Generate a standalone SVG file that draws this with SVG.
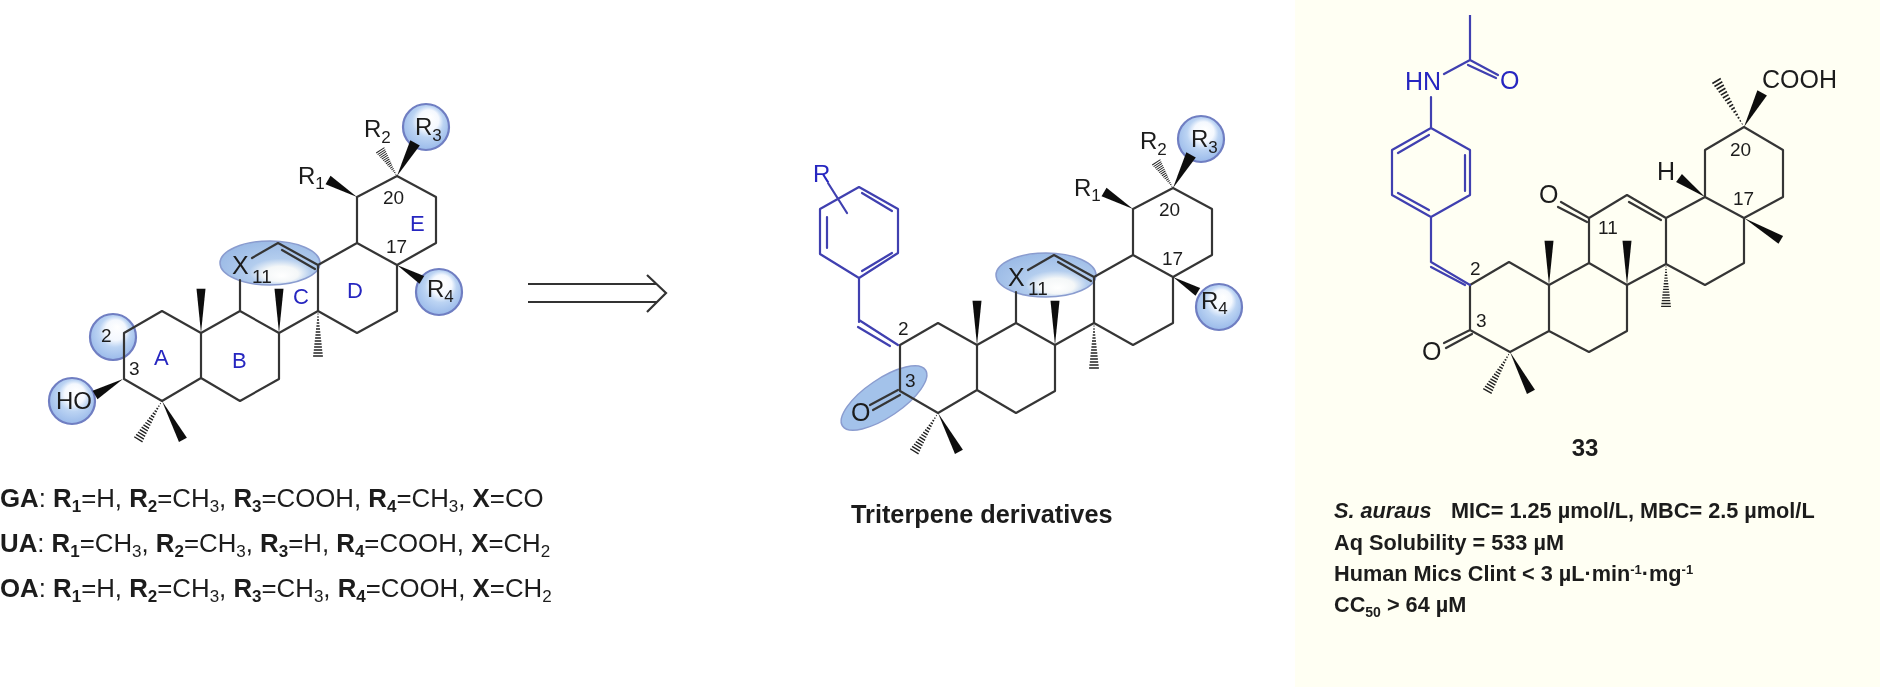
<svg xmlns="http://www.w3.org/2000/svg" width="1880" height="687" viewBox="0 0 1880 687">
<style>
text{font-family:"Liberation Sans",Arial,sans-serif;fill:#1c1c1c}
.bond{fill:none;stroke:#363636;stroke-width:2.2;stroke-linejoin:round;stroke-linecap:round}
.blue{fill:none;stroke:#3f3fb0;stroke-width:2.2;stroke-linejoin:round;stroke-linecap:round}
.spot{fill:url(#glow);stroke:#6f7ec2;stroke-width:2.2}
.oval{fill:url(#glowOval);stroke:#8a9ccf;stroke-width:1.5}
.ovalflat{fill:#a3c2ea;stroke:#8a9ccf;stroke-width:1.5}
.atom{font-size:24px}
.sub{font-size:17px}
.num{font-size:19px}
.ring{font-size:22px;fill:#2626c0}
.rb{font-size:24px;fill:#2626c0}
.tbl{font-size:25.8px}
.tbl tspan.s{font-size:17px}
.bd{font-weight:bold}
.data{font-size:21.7px;font-weight:bold}
.wedge{fill:#111}
.hash{fill:none;stroke:#222;stroke-width:1.4}
</style>
<defs>
<radialGradient id="glow" cx="0.5" cy="0.45" r="0.55" fx="0.6" fy="0.28">
<stop offset="0" stop-color="#ffffff"/><stop offset="0.4" stop-color="#f4f8fe"/><stop offset="0.62" stop-color="#bcd4f3"/><stop offset="1" stop-color="#9abaea"/>
</radialGradient>
<radialGradient id="glowOval" cx="0.58" cy="0.62" r="0.62" fx="0.62" fy="0.8">
<stop offset="0" stop-color="#ffffff"/><stop offset="0.28" stop-color="#f4f7f8"/><stop offset="0.5" stop-color="#b3cdee"/><stop offset="1" stop-color="#9cbbe6"/>
</radialGradient>
<filter id="soft" x="0" y="0" width="1" height="1" filterUnits="objectBoundingBox"><feGaussianBlur stdDeviation="0.45"/></filter>
<polygon id="w" points="0,0 46,-4.5 46,4.5"/>
<path id="h" d="M3 -.4V.4M6 -.7V.7M9 -1V1M12 -1.3V1.3M15 -1.6V1.6M18 -2V2M21 -2.3V2.3M24 -2.6V2.6M27 -2.9V2.9M30 -3.3V3.3M33 -3.6V3.6M36 -3.9V3.9M39 -4.2V4.2M42 -4.6V4.6M45 -4.9V4.9"/>
<g id="core">
<path class="bond" d="M124 333L162 311L201 333L240 311L279 333L318 311L357 333L397 311V265L436 243V197L397 176L357 197V243L397 265M201 333V378L240 401L279 379V333M124 333V379L162 401L201 378M318 311V265L357 243M318 265L278 243L252 258M282 250L315 269M240 311V280"/>
<use href="#w" class="wedge" transform="translate(201 333) rotate(-90) scale(.96 1)"/>
<use href="#w" class="wedge" transform="translate(279 333) rotate(-90) scale(.96 1)"/>
<use href="#w" class="wedge" transform="translate(162 401) rotate(61.7) scale(.96 1)"/>
<use href="#w" class="wedge" transform="translate(357 197) rotate(-149.6) scale(.73 1.1)"/>
<use href="#w" class="wedge" transform="translate(397 176) rotate(-61.4) scale(.82 1.2)"/>
<use href="#w" class="wedge" transform="translate(397 265) rotate(31) scale(.63 1)"/>
<use href="#h" class="hash" transform="translate(397 176) rotate(-123) scale(.68 1)"/>
<use href="#h" class="hash" transform="translate(318 311) rotate(90)"/>
<use href="#h" class="hash" transform="translate(162 401) rotate(121.6)"/>
</g>
</defs>
<rect id="background" width="1880" height="687" fill="#ffffff"/>
<rect id="panel" x="1295" y="0" width="585" height="687" fill="#fffff3"/>
<g filter="url(#soft)">
<g id="parent-structure">
<ellipse class="oval" cx="270" cy="263" rx="50" ry="22"/>
<circle class="spot" cx="426" cy="127" r="23"/>
<circle class="spot" cx="439" cy="292" r="23"/>
<circle class="spot" cx="113" cy="337" r="23"/>
<circle class="spot" cx="72" cy="401" r="23"/>
<use href="#core"/>
<use href="#w" class="wedge" transform="translate(123 379) rotate(150.3) scale(.7 1.1)"/>
<text class="atom" x="56" y="409">HO</text>
<text class="atom" x="298" y="184">R<tspan class="sub" dy="5">1</tspan></text>
<text class="atom" x="364" y="137">R<tspan class="sub" dy="6">2</tspan></text>
<text class="atom" x="415" y="135">R<tspan class="sub" dy="6">3</tspan></text>
<text class="atom" x="427" y="297">R<tspan class="sub" dy="5">4</tspan></text>
<text class="atom" x="232" y="274" style="font-size:25px">X</text>
<text class="num" x="252" y="283">11</text>
<text class="num" x="383" y="204">20</text>
<text class="num" x="386" y="253">17</text>
<text class="num" x="101" y="342">2</text>
<text class="num" x="129" y="375">3</text>
<text class="ring" x="154" y="365">A</text>
<text class="ring" x="232" y="368">B</text>
<text class="ring" x="293" y="304">C</text>
<text class="ring" x="347" y="298">D</text>
<text class="ring" x="410" y="231">E</text>
</g>
<g id="activity-table">
<text class="tbl" x="0" y="507"><tspan class="bd">GA</tspan>: <tspan class="bd">R</tspan><tspan class="bd s" dy="5">1</tspan><tspan dy="-5">=H, </tspan><tspan class="bd">R</tspan><tspan class="bd s" dy="5">2</tspan><tspan dy="-5">=CH</tspan><tspan class="s" dy="5">3</tspan><tspan dy="-5">, </tspan><tspan class="bd">R</tspan><tspan class="bd s" dy="5">3</tspan><tspan dy="-5">=COOH, </tspan><tspan class="bd">R</tspan><tspan class="bd s" dy="5">4</tspan><tspan dy="-5">=CH</tspan><tspan class="s" dy="5">3</tspan><tspan dy="-5">, </tspan><tspan class="bd">X</tspan>=CO</text>
<text class="tbl" x="0" y="552"><tspan class="bd">UA</tspan>: <tspan class="bd">R</tspan><tspan class="bd s" dy="5">1</tspan><tspan dy="-5">=CH</tspan><tspan class="s" dy="5">3</tspan><tspan dy="-5">, </tspan><tspan class="bd">R</tspan><tspan class="bd s" dy="5">2</tspan><tspan dy="-5">=CH</tspan><tspan class="s" dy="5">3</tspan><tspan dy="-5">, </tspan><tspan class="bd">R</tspan><tspan class="bd s" dy="5">3</tspan><tspan dy="-5">=H, </tspan><tspan class="bd">R</tspan><tspan class="bd s" dy="5">4</tspan><tspan dy="-5">=COOH, </tspan><tspan class="bd">X</tspan>=CH<tspan class="s" dy="5">2</tspan></text>
<text class="tbl" x="0" y="597"><tspan class="bd">OA</tspan>: <tspan class="bd">R</tspan><tspan class="bd s" dy="5">1</tspan><tspan dy="-5">=H, </tspan><tspan class="bd">R</tspan><tspan class="bd s" dy="5">2</tspan><tspan dy="-5">=CH</tspan><tspan class="s" dy="5">3</tspan><tspan dy="-5">, </tspan><tspan class="bd">R</tspan><tspan class="bd s" dy="5">3</tspan><tspan dy="-5">=CH</tspan><tspan class="s" dy="5">3</tspan><tspan dy="-5">, </tspan><tspan class="bd">R</tspan><tspan class="bd s" dy="5">4</tspan><tspan dy="-5">=COOH, </tspan><tspan class="bd">X</tspan>=CH<tspan class="s" dy="5">2</tspan></text>
</g>
<g id="connectors">
<path id="reaction-arrow" d="M528 284H657M528 302H657M647 275L666 293L647 312" fill="none" stroke="#333" stroke-width="2.2"/>
</g>
<g id="derivative-structure">
<ellipse class="oval" cx="1046" cy="275" rx="50" ry="22"/>
<ellipse class="ovalflat" cx="884" cy="398" rx="50" ry="19" transform="rotate(-34 884 398)"/>
<circle class="spot" cx="1201" cy="139" r="23"/>
<circle class="spot" cx="1219" cy="307" r="23"/>
<use href="#core" transform="translate(776 12)"/>
<path class="bond" d="M898 390L870 405M900 395L873 410"/>
<path class="blue" d="M898 345L859 320M890 346L858 327M859 322V278L898 253V209L859 187L820 209V254L859 278M892 253L862 271M862 193L892 211M827 217V248M847 213L828 183"/>
<text class="rb" x="813" y="182">R</text>
<text class="atom" x="851" y="421" style="font-size:25px">O</text>
<text class="num" x="898" y="335">2</text>
<text class="num" x="905" y="387">3</text>
<text class="atom" x="1074" y="196">R<tspan class="sub" dy="5">1</tspan></text>
<text class="atom" x="1140" y="149">R<tspan class="sub" dy="6">2</tspan></text>
<text class="atom" x="1191" y="147">R<tspan class="sub" dy="6">3</tspan></text>
<text class="atom" x="1201" y="309">R<tspan class="sub" dy="5">4</tspan></text>
<text class="atom" x="1008" y="286" style="font-size:25px">X</text>
<text class="num" x="1028" y="295">11</text>
<text class="num" x="1159" y="216">20</text>
<text class="num" x="1162" y="265">17</text>
<text class="bd" x="851" y="523" style="font-size:25.3px">Triterpene derivatives</text>
</g>
<g id="compound-33">
<path class="bond" d="M1470 285L1509 262L1549 285L1589 263L1627 285L1666 264L1705 285L1744 263V218L1783 197V150L1744 127L1705 150V197L1744 218M1549 285V331L1589 352L1627 331V285M1470 285V330L1510 352L1549 331M1666 264V218L1705 197M1666 218L1627 195L1589 218V263M1629 202L1661 220M1589 218L1561 202M1587 222L1558 207M1470 330L1444 343M1472 334L1446 348"/>
<use href="#w" class="wedge" transform="translate(1549 285) rotate(-90) scale(.96 1)"/>
<use href="#w" class="wedge" transform="translate(1627 285) rotate(-90) scale(.96 1)"/>
<use href="#w" class="wedge" transform="translate(1510 352) rotate(62.3) scale(.98 1)"/>
<use href="#w" class="wedge" transform="translate(1744 218) rotate(30.7) scale(.93 1)"/>
<use href="#w" class="wedge" transform="translate(1744 127) rotate(-62) scale(.84 1.2)"/>
<use href="#w" class="wedge" transform="translate(1705 197) rotate(-143.8) scale(.7 1.1)"/>
<use href="#h" class="hash" transform="translate(1744 127) rotate(-120.8) scale(1.19 1)"/>
<use href="#h" class="hash" transform="translate(1666 264) rotate(90) scale(.94 1)"/>
<use href="#h" class="hash" transform="translate(1510 352) rotate(120)"/>
<path class="blue" d="M1470 285L1431 262M1465 285L1431 267M1431 262V217L1470 195V150L1431 128L1392 150V195L1431 217M1429 135L1398 153M1398 193L1429 210M1465 155V191M1431 128V97M1444 74L1470 60L1498 75M1468 65L1496 78M1470 60V15"/>
<text class="atom" x="1405" y="90" style="font-size:25px;fill:#2626c0">HN</text>
<text class="atom" x="1500" y="89" style="font-size:25px;fill:#2626c0">O</text>
<text class="atom" x="1422" y="360" style="font-size:25px">O</text>
<text class="atom" x="1539" y="203" style="font-size:25px">O</text>
<text class="atom" x="1657" y="180" style="font-size:25px">H</text>
<text class="atom" x="1762" y="88" style="font-size:25px">COOH</text>
<text class="num" x="1470" y="275">2</text>
<text class="num" x="1476" y="327">3</text>
<text class="num" x="1598" y="234">11</text>
<text class="num" x="1733" y="205">17</text>
<text class="num" x="1730" y="156">20</text>
<text class="bd" x="1585" y="456" text-anchor="middle" style="font-size:24px">33</text>
<text class="data" x="1334" y="518"><tspan font-style="italic">S. auraus</tspan><tspan x="1451">MIC= 1.25 µmol/L, MBC= 2.5 µmol/L</tspan></text>
<text class="data" x="1334" y="550">Aq Solubility = 533 µM</text>
<text class="data" x="1334" y="581">Human Mics Clint &lt; 3 µL·min<tspan font-size="13" dy="-7">-1</tspan><tspan dy="7">·mg</tspan><tspan font-size="13" dy="-7">-1</tspan></text>
<text class="data" x="1334" y="612">CC<tspan font-size="14" dy="5">50</tspan><tspan dy="-5"> &gt; 64 µM</tspan></text>
</g>
</g>
</svg>
